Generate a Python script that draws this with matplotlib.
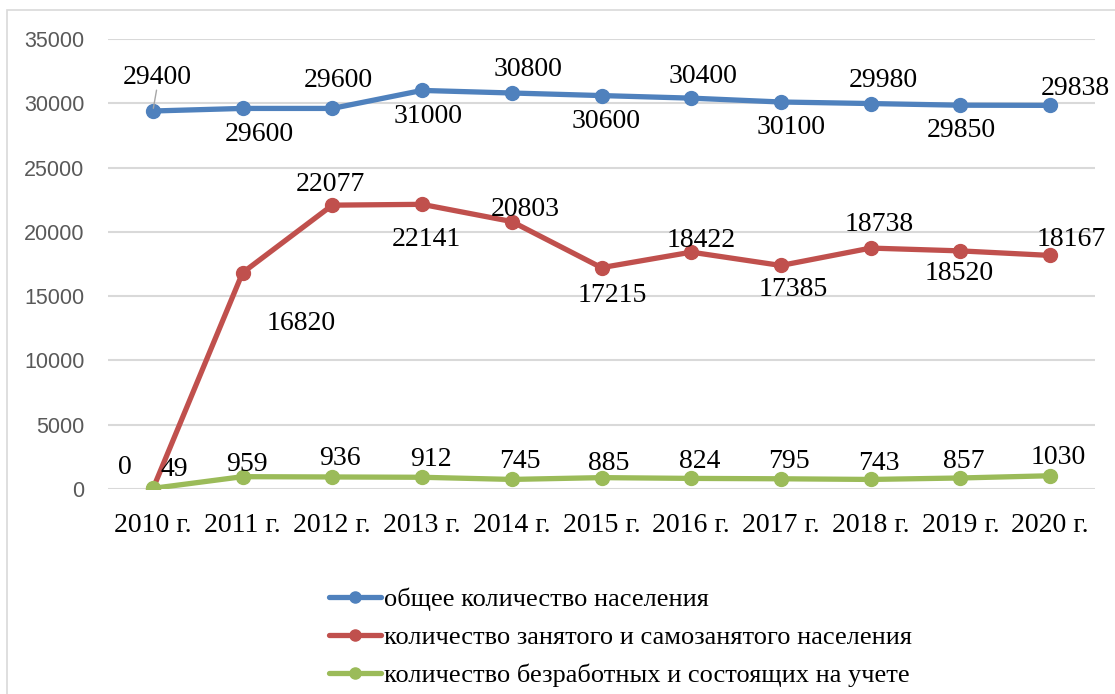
import matplotlib.pyplot as plt
from matplotlib.patches import Rectangle

years = ['2010 г.', '2011 г.', '2012 г.', '2013 г.', '2014 г.', '2015 г.',
         '2016 г.', '2017 г.', '2018 г.', '2019 г.', '2020 г.']
total = [29400, 29600, 29600, 31000, 30800, 30600, 30400, 30100, 29980, 29850, 29838]
employed = [0, 16820, 22077, 22141, 20803, 17215, 18422, 17385, 18738, 18520, 18167]
unemployed = [49, 959, 936, 912, 745, 885, 824, 795, 743, 857, 1030]

names = ['общее количество населения',
         'количество занятого и самозанятого населения',
         'количество безработных и состоящих на учете']
colors = ['#4F81BD', '#C0504D', '#9BBB59']

# label offsets in pixels (dx, dy up)
off_total = [(4, 33), (17, -26), (6, 28), (6, -26), (16, 23), (5, -26),
             (12, 22), (10, -26), (13, 23), (1, -25), (25, 17)]
off_emp = [(-28, 21), (59, -51), (-2, 21), (4, -35), (13, 12), (11, -28),
           (10, 12), (12, -24), (8, 24), (-1, -23), (21, 16)]
off_unemp = [(21, 19), (4, 12), (8, 18), (9, 18), (8, 18), (7, 14),
             (8, 17), (8, 17), (8, 16), (3, 16), (8, 18)]

fig = plt.figure(figsize=(11.15, 6.94), dpi=100)
fig.patches.append(Rectangle((7 / 1115, -0.01), 1.1, 1 - 10 / 694 + 0.01,
                             transform=fig.transFigure, fill=False,
                             edgecolor='#D9D9D9', linewidth=1.2))
ax = fig.add_axes([108 / 1115, 1 - 489 / 694, (1095 - 108) / 1115, 450 / 694])

x = list(range(len(years)))
series = [total, employed, unemployed]
offsets = [off_total, off_emp, off_unemp]
for vals, name, c, offs in zip(series, names, colors, offsets):
    ax.plot(x, vals, color=c, lw=3.8, marker='o', ms=10, label=name,
            solid_capstyle='round', zorder=3)
    for i, v in enumerate(vals):
        dx, dy = offs[i]
        ax.annotate(str(v), (i, v), xytext=(dx * 0.72, dy * 0.72),
                    textcoords='offset points', ha='center', va='center',
                    fontsize=20, family='Liberation Serif', color='black',
                    zorder=4)

# leader line for first label
ax.annotate('', (0, total[0]), xytext=(3, 17), textcoords='offset points',
            arrowprops=dict(arrowstyle='-', color='#A6A6A6', lw=1))

ax.set_xlim(-0.5, len(years) - 0.5)
ax.set_ylim(0, 35000)
ax.set_yticks(range(0, 35001, 5000))
ax.set_xticks(x)
ax.set_xticklabels(years, family='Liberation Serif', fontsize=20)
for lab in ax.get_yticklabels():
    lab.set_family('Liberation Sans')
    lab.set_fontsize(15.5)
    lab.set_color('#595959')
ax.tick_params(length=0)
ax.tick_params(axis='y', pad=17)
ax.tick_params(axis='x', pad=17)
ax.grid(axis='y', color='#D9D9D9', lw=1.5)
ax.set_axisbelow(True)
for s in ax.spines.values():
    s.set_visible(False)

fig.legend(loc='upper left', bbox_to_anchor=(318 / 1115, 1 - 577 / 694),
           frameon=False, prop={'family': 'Liberation Serif', 'size': 19},
           handlelength=2.0, handletextpad=0.1, labelspacing=0.55,
           markerscale=0.8, borderaxespad=0)

fig.savefig('out.png', dpi=100)
